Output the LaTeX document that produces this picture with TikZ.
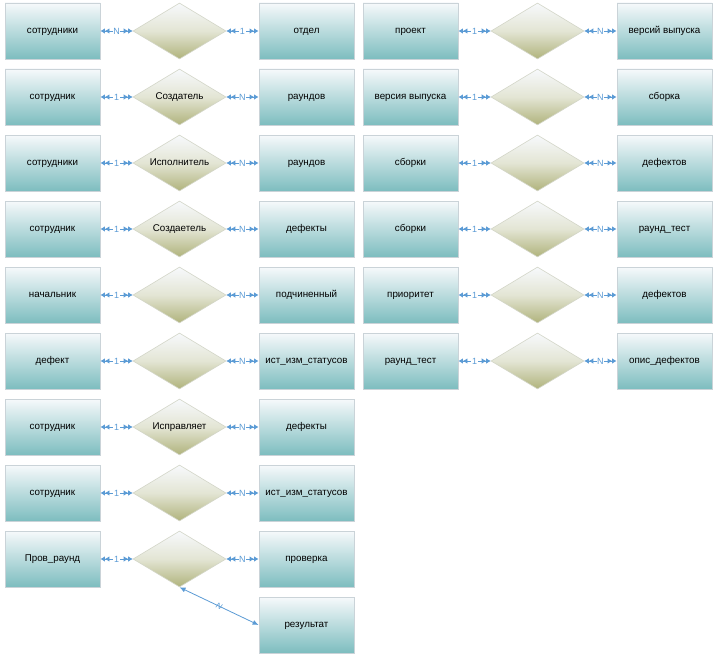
\documentclass[tikz,border=0pt]{standalone}
\usepackage{fontspec}
\setmainfont{Liberation Sans}
\usetikzlibrary{arrows.meta,shapes.geometric,shadows}
\definecolor{entTop}{HTML}{F6F9FB}
\definecolor{entBot}{HTML}{7DBDBF}
\definecolor{entLine}{HTML}{CAD3D8}
\definecolor{diaTop}{HTML}{F7F9FC}
\definecolor{diaMid}{HTML}{E3E5D4}
\definecolor{diaBot}{HTML}{B0B37C}
\definecolor{diaLine}{HTML}{D3D6C8}
\definecolor{conCol}{HTML}{5B9BD5}
\tikzset{
  dbl/.tip={Latex[length=4.5pt,width=5.5pt] Latex[length=4.5pt,width=5.5pt]},
  sgl/.tip={Latex[length=6pt,width=5pt]},
}
\begin{document}
\begin{tikzpicture}[x=1pt,y=-1pt,
  ent/.style={rectangle, draw=entLine, line width=0.8pt, top color=entTop, bottom color=entBot,
    minimum width=95pt, minimum height=56pt, inner sep=0pt,
    text height=1.5ex, text depth=0.5ex,
    font=\fontsize{9.8}{11}\selectfont,
    drop shadow={opacity=0.12,shadow xshift=1pt,shadow yshift=-1pt}},
  rel/.style={diamond, draw=diaLine, line width=0.6pt, top color=diaTop, bottom color=diaBot, middle color=diaMid,
    minimum width=93pt, minimum height=56pt, inner sep=0pt, shape aspect=1.66,
    text height=1.5ex, text depth=0.5ex,
    font=\fontsize{9.8}{11}\selectfont},
  conn/.style={draw=conCol, line width=0.8pt, dbl-dbl},
  conn2/.style={draw=conCol, line width=0.8pt, sgl-sgl},
  lbl/.style={fill=white, text=conCol, font=\fontsize{9}{10}\selectfont, inner sep=0.6pt},
]
\fill[white] (0,0) rectangle (718,661);
\useasboundingbox (0,0) rectangle (718,661);

\foreach [count=\i] \a/\t/\m/\n/\b in {
  {сотрудники}/{}/N/1/{отдел},
  {сотрудник}/{Создатель}/1/N/{раундов},
  {сотрудники}/{Исполнитель}/1/N/{раундов},
  {сотрудник}/{Создаетель}/1/N/{дефекты},
  {начальник}/{}/1/N/{подчиненный},
  {дефект}/{}/1/N/{ист\_изм\_статусов},
  {сотрудник}/{Исправляет}/1/N/{дефекты},
  {сотрудник}/{}/1/N/{ист\_изм\_статусов},
  {Пров\_раунд}/{}/1/N/{проверка}}{
  \node[ent] (la\i) at (52.5,{31+66*(\i-1)}) {\a};
  \node[rel] (lr\i) at (179.5,{31+66*(\i-1)}) {\t};
  \node[ent] (lb\i) at (306.5,{31+66*(\i-1)}) {\b};
  \draw[conn] (la\i.east) -- node[lbl]{\m} (lr\i.west);
  \draw[conn] (lr\i.east) -- node[lbl]{\n} (lb\i.west);
}

\foreach [count=\i] \a/\m/\n/\b in {
  {проект}/1/N/{версий выпуска},
  {версия выпуска}/1/N/{сборка},
  {сборки}/1/N/{дефектов},
  {сборки}/1/N/{раунд\_тест},
  {приоритет}/1/N/{дефектов},
  {раунд\_тест}/1/N/{опис\_дефектов}}{
  \node[ent] (ra\i) at (410.5,{31+66*(\i-1)}) {\a};
  \node[rel] (rr\i) at (537.5,{31+66*(\i-1)}) {};
  \node[ent] (rb\i) at (664.5,{31+66*(\i-1)}) {\b};
  \draw[conn] (ra\i.east) -- node[lbl]{\m} (rr\i.west);
  \draw[conn] (rr\i.east) -- node[lbl]{\n} (rb\i.west);
}

\node[ent] (res) at (306.5,625) {результат};
\draw[conn2] (lr9.south) -- node[lbl, sloped, fill=none, font=\fontsize{8}{9}\selectfont\itshape]{N} (res.west);
\end{tikzpicture}
\end{document}
